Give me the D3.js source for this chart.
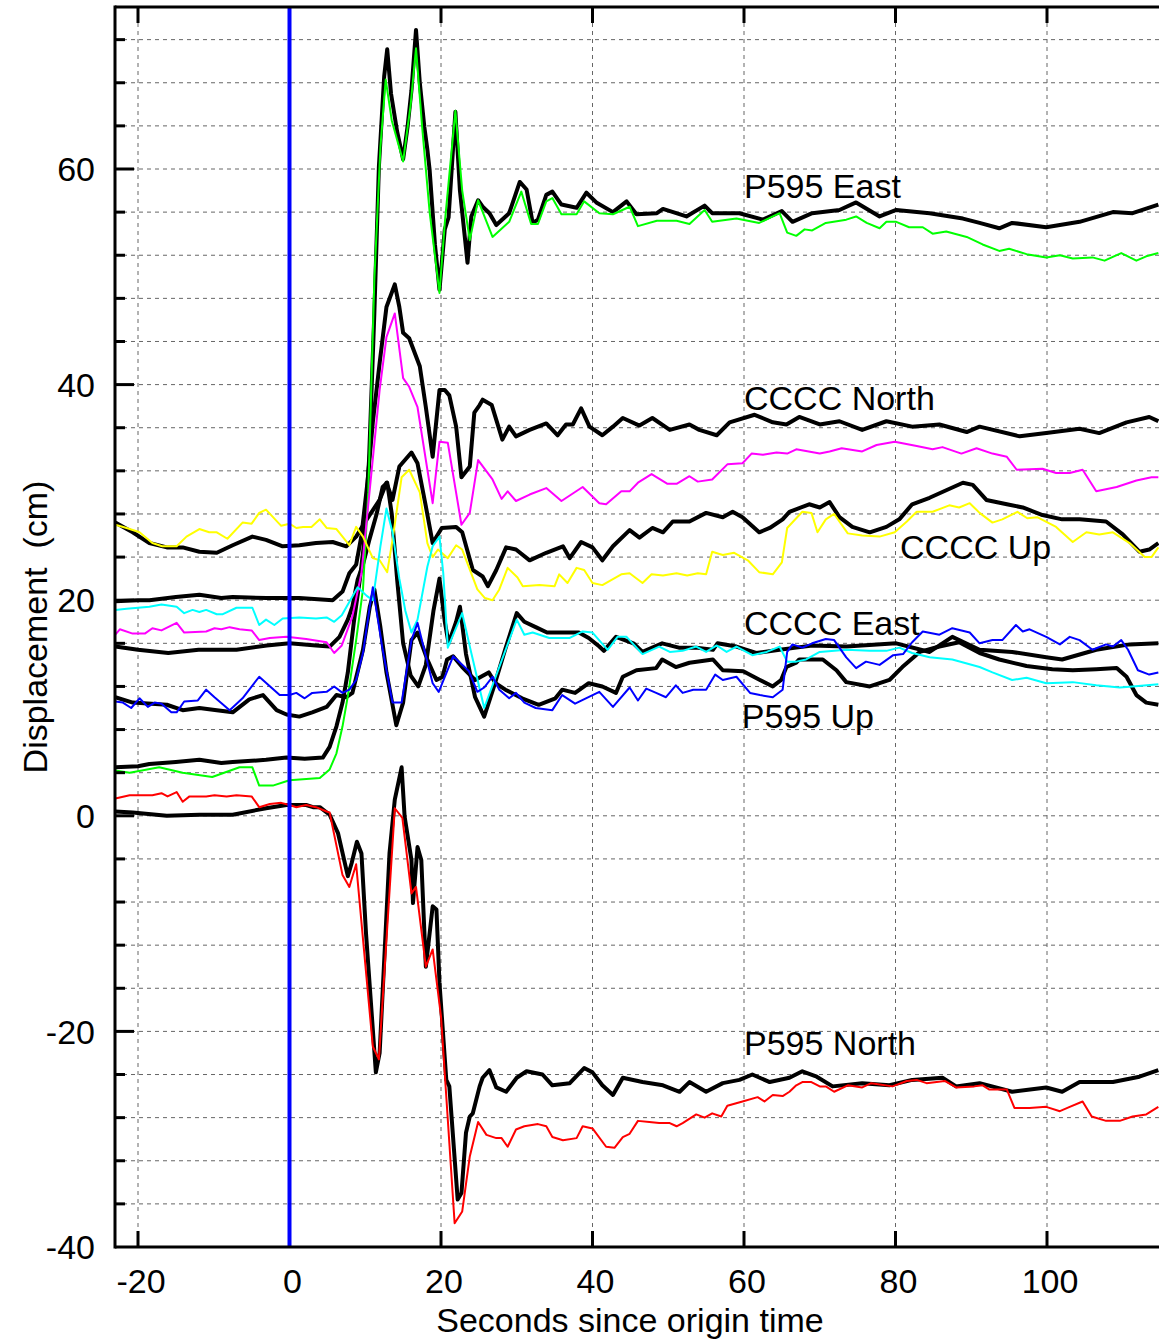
<!DOCTYPE html>
<html>
<head>
<meta charset="utf-8">
<script src="https://cdn.jsdelivr.net/npm/d3@7"></script>
<style>
  body { margin: 0; background: #fff; }
  text { font-family: "Liberation Sans", Arial, sans-serif; }
</style>
</head>
<body>
<div id="container"></div>
<script>
// [seconds, cm] pairs
const p595EastGps = [[-23,4.5],[-20,4.6],[-18.5,4.8],[-15,5.0],[-11.9,5.2],[-9,4.9],[-7.5,5.0],[-5,5.1],[-3.1,5.2],[-0.4,5.4],[2,5.3],[4.4,5.4],[5.3,6.4],[6.2,8.3],[7,10.5],[7.7,13.3],[8.5,18],[9.3,22],[9.8,25],[10.5,33],[11.2,46.6],[11.8,60.2],[12.5,68.6],[12.9,71.1],[13.4,67],[14.2,63.5],[15,60.9],[15.6,64],[16.1,67.3],[16.7,72.9],[17.2,68],[17.8,63.9],[18.2,61.8],[18.5,59.9],[19.2,53],[19.8,48.8],[20.5,54.4],[21,55.5],[21.9,65.3],[22.5,58],[23.5,51.3],[24,55.6],[24.9,57.1],[25.5,56.5],[26.4,55.9],[27.3,54.8],[29,55.9],[30.4,58.8],[31.3,58.1],[32.1,55],[32.8,55.3],[33.9,57.6],[34.7,57.9],[35.9,56.7],[37.9,56.4],[39.2,57.8],[40.5,56.9],[42.7,56],[44.5,57],[45.8,55.8],[48.5,55.9],[49.3,56.3],[52.4,55.6],[54.8,56.6],[55.8,55.9],[59.4,55.9],[62.5,55.3],[65,56.1],[66.4,55.1],[69,55.9],[72.6,56.2],[74.8,56.9],[77.9,55.6],[80.1,56.2],[84.5,55.9],[88.9,55.4],[91.1,55],[93.7,54.5],[95.4,55],[99.9,54.6],[104.3,55.1],[108.7,56],[111.3,55.9],[114.7,56.7]];
const p595EastSeis = [[-23,4.2],[-21.1,4.0],[-17.2,4.5],[-14.1,4.0],[-10.2,3.6],[-6.6,4.5],[-4.9,4.5],[-4,2.8],[-2.2,2.8],[0,3.3],[4,3.5],[5.3,4.3],[6.2,5.8],[7,8.3],[7.7,11.1],[8.8,16.3],[9.7,21],[10.4,30],[11.2,49.7],[12,62],[12.7,68.3],[13.5,64.5],[15,60.7],[16,66],[16.7,71.2],[17.5,64],[18.5,56],[19.8,48.5],[20.5,55],[21.9,65.4],[22.8,58],[23.8,53.4],[24.9,57.1],[26.8,53.7],[29,55.1],[30.6,57.9],[31.9,54.9],[32.8,54.9],[33.9,57],[34.7,57.3],[35.9,55.8],[37.9,55.8],[38.9,57],[40.9,55.9],[42.7,55.8],[44.9,56.5],[46,54.7],[48.5,55.2],[51.1,55.2],[52.8,54.9],[54.8,56.2],[55.8,55.1],[59,55.4],[62,55],[64.7,55.9],[65.7,54.1],[66.9,53.8],[68,54.4],[69,54.3],[70.8,55],[73.5,55.3],[74.8,55.6],[76.2,55],[77.9,54.5],[78.8,55.1],[80.1,55.1],[81.8,54.6],[83.6,54.6],[84.9,54],[86.7,54.2],[89.4,53.7],[91.5,53],[93.7,52.4],[95,52.6],[97.3,52.1],[99.9,51.8],[101.7,52],[103.4,51.7],[106,51.8],[107.6,51.5],[109.8,52.2],[111.8,51.5],[113.1,51.9],[114.7,52.2]];

const ccccNorthGps = [[-23,19.9],[-20,20],[-18.5,20],[-15,20.3],[-11.9,20.5],[-9,20.2],[-7.5,20.3],[-3,20.2],[1.3,20.2],[5.7,20],[7,20.8],[7.9,22.5],[8.8,23.3],[9.5,26],[10.3,31],[11,36.5],[11.9,42],[12.8,47.2],[13.9,49.3],[14.5,47.2],[15,44.8],[15.8,44.3],[17.2,41.7],[18,37.9],[18.9,33.3],[19.8,39.5],[20.5,39.5],[21.1,39],[22,36.1],[22.7,31.4],[23.8,32.4],[24.4,37.4],[25.1,38.1],[25.5,38.6],[26.7,38.1],[28.1,34.9],[29,36.1],[29.9,35.2],[31.7,35.8],[33.9,36.4],[35.4,35.3],[36.5,36.3],[37.4,36.3],[38.5,37.8],[39.6,36.1],[41.3,35.3],[42.7,36.1],[44,36.9],[46.2,36.2],[47.9,36.9],[50.2,35.8],[52.8,36.3],[54.1,35.8],[56.4,35.3],[58.1,36.5],[61.4,37.2],[63.8,36.5],[65.6,36.3],[67.3,37],[70,36.3],[72.6,36.6],[75.6,35.8],[78.8,36.6],[82.2,36.1],[85.8,36.3],[89.4,35.6],[91.1,36.1],[96.4,35.2],[99.9,35.5],[104.3,35.9],[106.9,35.5],[110.5,36.5],[113.5,37],[114.7,36.6]];
const ccccNorthSeis = [[-23,16.8],[-22.4,17.3],[-20.7,16.9],[-19.1,16.9],[-18.1,17.4],[-16.9,17.2],[-14.9,17.9],[-13.9,17],[-11,17.1],[-9.9,17.4],[-9,17.3],[-7.9,17.5],[-6.6,17.3],[-5,17.2],[-4,16.3],[-2.6,16.5],[-0.4,16.6],[2.2,16.4],[4.9,16.1],[5.9,15.1],[6.9,15.8],[8.3,18.5],[9.5,22.5],[10.7,31],[11.9,39.5],[12.8,44.4],[13.9,46.6],[15,40.6],[15.8,39.8],[16.9,37.9],[18.9,29],[19.8,34.7],[20.9,34.6],[22.7,27],[23.8,28.1],[24.9,33],[26.8,31.2],[28,29.4],[28.8,30.1],[29.9,29.2],[31.7,29.8],[33.9,30.4],[35.9,29.2],[38.7,30.5],[40.9,29],[41.8,28.9],[43.8,30.1],[44.9,30.1],[46,30.9],[47.8,31.7],[49.9,30.8],[51.1,30.8],[52.8,31.5],[53.9,31],[55.8,31.2],[57.8,32.6],[59.8,32.7],[61,33.6],[62.5,33.5],[64.3,33.7],[65.7,33.6],[66.9,34],[70,33.6],[71.3,33.8],[72.9,34.1],[75.6,33.8],[77.5,34.4],[79.9,34.7],[82.8,34.3],[84.9,34],[86.2,34.2],[88.7,33.6],[90.7,34.1],[92.8,33.6],[94.7,33.3],[96,32.1],[99.4,32.2],[101.2,31.8],[103,31.8],[104.7,32.1],[106.5,30.1],[109.2,30.5],[111.8,31.1],[113.8,31.4],[114.7,31.4]];

const ccccUpGps = [[-23,27.2],[-20.7,26.3],[-18.5,25.3],[-16.2,24.9],[-14.1,24.9],[-11.9,24.5],[-9.6,24.4],[-7.5,25.1],[-4.9,25.9],[-3.1,25.6],[-0.9,25],[1.3,25.1],[3.5,25.3],[5.7,25.4],[7.5,25],[8.8,25.9],[10.2,27.5],[11.9,29.3],[12.8,30.9],[13.6,29.3],[14.5,32.4],[16.1,33.7],[16.9,32.7],[18,28.7],[18.9,25.3],[20.1,26.7],[22,26.8],[22.8,26.3],[24.2,22.8],[25.5,22.2],[26.2,21.3],[27.3,22.8],[28.6,24.9],[29.9,24.7],[31.7,23.7],[33.9,24.4],[36.1,25],[37,23.9],[38.5,25.4],[40,24.9],[41.3,23.7],[42.7,25],[44.9,26.5],[46.2,25.8],[47.9,26.7],[49.3,26.3],[50.6,27.3],[52.8,27.3],[55,28.1],[57.2,27.7],[58.5,28.2],[59.8,27.7],[62,26.3],[63.4,26.7],[65.1,27.5],[66,28.2],[68.6,28.9],[70,28.6],[71.3,29.1],[72.6,27.7],[74.3,26.8],[76.6,26.3],[78.8,26.8],[80.5,27.5],[82.2,28.9],[84.5,29.5],[86.7,30.2],[88.9,30.9],[90.2,30.7],[92,29.3],[94.7,28.9],[96.8,28.6],[99.4,27.9],[102,27.5],[104.3,27.5],[107.8,27.3],[110,26.1],[112.2,24.5],[113.5,24.7],[114.7,25.3]];
const ccccUpSeis = [[-23,27],[-21.5,26.7],[-19.8,26.3],[-18.1,25.3],[-16.8,25],[-14.9,25],[-13.6,25.9],[-11.9,26.6],[-10.6,26.3],[-9.6,26.3],[-8.2,25.7],[-6.2,27.2],[-5,27.1],[-4,28.1],[-3.1,28.4],[-1.1,26.9],[0,27.1],[0.9,26.7],[1.8,26.8],[2.9,26.8],[4,27.5],[4.9,26.7],[6.2,26.6],[7.9,25.1],[8.8,26.8],[9.7,25.9],[11,23.9],[11.9,23.7],[12.9,22.6],[13.6,25.6],[14.8,31.4],[15.8,32.1],[17.2,30],[18.2,25.3],[18.9,24],[19.6,24.7],[20.9,23.9],[22,25.1],[22.8,24.7],[24.8,21],[25.8,20.2],[26.8,20],[27.7,21],[28.8,23],[30.1,22.1],[30.8,21.3],[33,21.4],[35,21.3],[35.6,22.4],[36.7,21.6],[37.9,23],[38.9,22.8],[40,21.6],[41.3,21.4],[43.8,22.4],[44.9,22.5],[46.6,21.6],[47.8,22.4],[49.3,22.3],[51.1,22.5],[52.5,22.3],[53.9,22.5],[55,22.4],[55.8,24.5],[57.2,24.2],[58.7,24.4],[60.5,23.7],[62,22.6],[63.8,22.4],[65,23.5],[65.7,26.7],[67.7,28.2],[68.9,28.1],[69.7,26.3],[70.8,27.5],[71.9,28],[73.7,26.2],[75.6,26],[77.9,25.9],[79.9,26.3],[81.5,27.3],[82.8,28.2],[84.9,28.2],[87.1,28.8],[88.4,28.6],[89.8,29],[91.1,28.1],[92.8,27.2],[94.1,27.5],[96.1,28.2],[97.4,27.6],[98.7,27.7],[101.2,26.8],[103.4,25.4],[105.2,26.3],[106.9,26.1],[108.7,26.3],[110.9,25.3],[112.9,24],[113.8,24],[114.7,24.9]];

const ccccEastGps = [[-23,15.7],[-20,15.4],[-16,15.1],[-12,15.4],[-7,15.4],[-3,15.8],[0,16],[3.5,15.8],[5.3,15.7],[6.6,16.6],[7.7,18.2],[8.3,19.4],[9,21.9],[9.7,23.3],[10.5,25.5],[11.5,28],[12.3,30.5],[12.9,30.9],[13.5,28],[14.2,22],[15,16],[16,13],[17,12],[18,14],[19,19],[19.8,22],[20.5,18],[21,16],[22,18],[22.5,19.4],[23.3,15],[24.5,11],[25.7,9.2],[27,12],[28.5,15.5],[30,18.8],[31,18],[32.5,17.5],[34,17],[36,17],[38.2,17],[39.5,16.5],[40.9,15.7],[41.5,15.3],[43.1,16.6],[45.4,16],[46.6,15.2],[49.2,16],[51.4,15.6],[53.7,15.6],[55.9,15.4],[56.5,16],[59,15.7],[61.6,15.1],[64.7,15.4],[66.9,15.6],[69,15.8],[73.5,15.7],[80.1,16],[84.5,15.2],[87.5,16.6],[91.1,15.4],[95.4,15.2],[99.9,14.7],[102,14.5],[106.5,15.4],[110.9,15.9],[114.7,16]];
const ccccEastSeis = [[-23,19.1],[-21.5,19.2],[-18.5,19.4],[-16.9,19.6],[-14.9,19.4],[-13.9,18.8],[-12.8,19.1],[-11.9,18.9],[-11,19.1],[-9.6,18.7],[-8.8,18.7],[-7,19.3],[-4.9,19.3],[-4,17.7],[-3.1,18.2],[-2,17.7],[-0.9,18.3],[1.3,18.4],[3.5,18.3],[4.9,18.4],[5.9,18],[6.9,18.6],[9,21.2],[10.2,20.4],[11,20],[12,25],[12.8,28.5],[13.6,26.3],[14.5,22],[15.3,19],[16.1,17],[16.9,18.2],[18.2,23.1],[18.9,25],[19.8,25.9],[20.3,22.5],[20.9,15.6],[22.8,18.8],[24,15.1],[25.7,10],[30,18.2],[31,16.8],[32.1,17],[34.3,16.5],[37,16.5],[38.7,17.1],[40,17],[42,15.4],[43.3,16.6],[44.5,16.6],[46.6,15],[48.8,15.7],[50.2,15.2],[51.9,15.3],[53.7,15.7],[55,15.2],[56.4,15.8],[57.7,15.2],[59,15.7],[61.1,14.9],[63,15.2],[64.7,15.7],[65.7,14.3],[66.9,14.3],[68.2,14.5],[70,15.2],[73.5,15.4],[76.6,15.3],[78.8,15.3],[80.5,15.6],[82.2,15.1],[84.5,14.7],[87.5,14.5],[91.1,13.8],[92.8,13.3],[95.4,12.6],[97.3,12.8],[99.9,12.3],[103.4,12.4],[106.5,12.1],[109.6,11.9],[111.3,12],[114.7,12.2]];

const p595UpGps = [[-23,11],[-20.7,10.5],[-16.2,10.3],[-14.1,9.8],[-11.9,10],[-9.6,9.8],[-7.5,9.6],[-5.3,10.8],[-3.5,11.2],[-1.7,9.8],[-0.4,9.4],[1.3,9.2],[3,9.6],[4.9,10.1],[6.2,11.2],[7.5,11],[8.3,11.4],[9.7,15.4],[10.6,19.4],[11.2,21],[12,17.5],[12.8,13.3],[14.1,8.4],[15,10.5],[16.1,16.3],[16.9,17],[18.2,14.5],[19.4,12.6],[20.2,12.9],[20.8,14.5],[21.6,14.8],[22.8,13.8],[24.5,12.6],[26.3,13.3],[27.2,12.3],[28.5,11.7],[30.7,10.9],[32.9,10.3],[35.1,10.9],[36,11.7],[37.7,11.4],[39.5,12.3],[41.3,12],[43.1,11.4],[44,12.9],[45.8,13.5],[48.4,13.7],[49.2,14.5],[51,13.8],[52.8,14.2],[55.9,14.5],[57.2,13.5],[59.9,13.4],[62.1,12.6],[63.8,12],[64.9,12.6],[65.6,13.8],[66.9,14.2],[67.3,14.5],[70.4,14.5],[72.2,13.5],[73.5,12.4],[76.6,12],[79.2,12.6],[80.9,13.8],[83.2,15.2],[85.8,15.7],[88.4,16.1],[91.1,15.1],[93.7,14.5],[97.3,13.9],[100.7,13.6],[103.4,13.5],[106.5,13.6],[109.2,13.7],[110.5,12.9],[111.8,11.2],[113.1,10.5],[114.7,10.3]];
const p595UpSeis = [[-23,10.6],[-22,10.5],[-20.9,10],[-19.8,10.9],[-18.7,10.1],[-17.8,10.5],[-16.9,10.4],[-15.6,9.6],[-14.9,9.6],[-13.9,10.6],[-12.1,10.7],[-11,11.7],[-9.9,11],[-7.9,9.8],[-6.2,10.9],[-4,12.9],[-1.3,11.2],[0,11.2],[0.9,11.4],[2,10.9],[3,11.4],[4.9,11.5],[5.9,12],[7,11.4],[7.9,11.7],[8.8,12.6],[9.7,15.1],[10.6,19.4],[11,21.2],[12.3,15.4],[13.6,10.5],[14.8,10.5],[16.1,16.3],[16.9,17.9],[18.9,12.3],[19.7,11.5],[21.6,14.8],[23.7,13.4],[24.8,11.5],[25.7,11.9],[26.8,12.9],[27.7,11.7],[29,10.9],[29.9,11.4],[31,10.5],[32.5,10],[34.7,9.8],[36,11.2],[37.7,10.4],[40.9,11.5],[42.7,10.1],[44.9,11.9],[46,10.7],[47.1,11.8],[48.4,11.4],[49.7,11],[51,12.1],[51.9,11.4],[53.3,11.7],[55,11.7],[56.2,13.1],[57.2,12.6],[59,12.9],[60.8,11.4],[62.1,11.2],[63.8,11],[65.1,11.7],[65.7,15.2],[66.4,15.9],[67.7,15.6],[69,16],[70.8,16.4],[71.9,16.3],[73.5,14.7],[74.8,13.7],[76.1,14.3],[77.9,14],[79.7,14.9],[81,15],[82.2,16.1],[83.6,17.1],[85.8,16.8],[87.5,17.4],[89.8,17],[91.1,16],[92.8,16.3],[94.1,16.3],[95.9,17.7],[96.8,17.1],[97.7,17.3],[99.9,16.6],[101.7,15.9],[103,16.6],[104.3,16.3],[106,15.4],[107.8,15.9],[108.7,15.7],[109.8,16.3],[110.7,15.4],[112,13.5],[113.5,13.1],[114.7,13.3]];

const p595NorthGps = [[-23,0.4],[-20.7,0.3],[-16.2,0],[-11.9,0.1],[-7.5,0.1],[-3.1,0.7],[-0.4,1],[2.2,1],[3.1,0.8],[4,0.8],[5.3,0.1],[6.4,-1.6],[7.7,-5.6],[8.2,-4.4],[8.9,-2.4],[9.5,-3.5],[10.1,-10.9],[11.4,-23.8],[11.9,-22],[13.2,-3.5],[13.9,1.5],[14.8,4.5],[15.2,-0.1],[16.1,-4.1],[16.3,-8.1],[16.9,-2.9],[17.4,-4.1],[18,-14],[18.9,-8.4],[19.4,-8.7],[19.8,-15.5],[20.7,-24.5],[21.1,-25.1],[22.2,-35.6],[22.7,-35],[23.3,-29.4],[23.8,-27.9],[24.2,-27.6],[25.1,-25.1],[25.5,-24.3],[26.4,-23.6],[27.3,-25.2],[28.6,-25.6],[30,-24.3],[31.3,-23.7],[33.4,-24],[34.7,-25],[37,-24.8],[38.9,-23.4],[40,-23.8],[41.3,-25],[42.7,-25.9],[44,-24.3],[46.6,-24.7],[49.3,-25],[51.5,-25.6],[52.8,-24.7],[55,-25.6],[57.2,-24.8],[59.4,-24.5],[61.1,-24],[63.4,-24.7],[66,-24.3],[67.7,-23.7],[69.6,-24.2],[71.7,-25.1],[75.6,-24.8],[79.2,-25],[82.2,-24.5],[86.2,-24.3],[88,-25.1],[91.1,-24.8],[95.4,-25.6],[99.9,-25.2],[102,-25.6],[104.3,-24.7],[108.7,-24.7],[112.2,-24.2],[114.7,-23.6]];
const p595NorthSeis = [[-23,1.6],[-21.1,1.9],[-18.1,1.9],[-16.9,2.1],[-16.1,1.8],[-14.9,2.2],[-14.1,1.3],[-13.2,1.8],[-11,1.8],[-9.9,1.9],[-8.3,1.8],[-7,1.9],[-5,1.8],[-4,0.8],[-2.6,1.1],[-1.1,1.2],[0,1],[0.9,0.8],[2.2,1],[3.5,0.8],[4.9,0.4],[5.3,0.3],[7,-5.5],[7.9,-6.6],[8.8,-4.5],[11,-21.4],[11.8,-22.6],[13.9,0.7],[14.9,-0.2],[16.1,-7.2],[16.7,-6.6],[18,-14],[18.9,-12.4],[20,-18.6],[21.8,-37.8],[22.8,-36.7],[23.8,-31.6],[24.9,-28.4],[26,-29.6],[27.3,-29.9],[28,-29.9],[28.8,-30.7],[29.9,-29.1],[31,-28.8],[32.8,-28.6],[33.9,-28.8],[34.7,-29.8],[36.1,-30.1],[37.9,-29.9],[38.7,-28.8],[40,-29],[41.8,-30.7],[42.9,-30.8],[44,-29.8],[44.9,-29.5],[46,-28.3],[47.5,-28.4],[48.8,-28.5],[50.2,-28.5],[51.1,-28.8],[51.9,-28.5],[53.7,-27.7],[54.8,-28],[55.8,-27.6],[57,-27.9],[57.8,-26.9],[59.8,-26.5],[61.8,-26.1],[62.7,-26.5],[63.8,-25.9],[65.1,-26],[66,-25.6],[66.9,-25],[67.7,-24.7],[68.9,-24.7],[70,-25.1],[70.8,-25.1],[71.9,-25.6],[73.7,-25],[75.6,-25.2],[76.8,-24.8],[79.6,-25.1],[81.5,-24.6],[82.8,-24.5],[84.1,-24.8],[86.5,-24.6],[88,-25.2],[90.4,-25.1],[91.5,-25],[92.4,-25.4],[94.7,-25.4],[95.7,-27.1],[97.7,-27.1],[99.9,-27],[101.7,-27.4],[103,-27],[104.7,-26.5],[105.9,-27.9],[107.8,-28.3],[109.6,-28.3],[111.3,-27.9],[113.1,-27.7],[114.7,-27]];

const xTicks = [-20, 0, 20, 40, 60, 80, 100];
const yTicks = [-40, -20, 0, 20, 40, 60];
const curveLabels = [
  {text: "P595 East", t: 60, v: 57.3},
  {text: "CCCC North", t: 60, v: 37.6},
  {text: "CCCC Up", t: 80.6, v: 23.8},
  {text: "CCCC East", t: 60, v: 16.8},
  {text: "P595 Up", t: 59.7, v: 8.1},
  {text: "P595 North", t: 60, v: -22.2}
];

let W = 1159, H = 1343;
let padL = 115, padT = 7, padB = 1247;

let x = d3.scaleLinear().domain([-20, 100]).range([138, 1047]);
let y = d3.scaleLinear().domain([-40, 60]).range([1247, 169]);

let svg = d3.select("#container").append("svg")
    .attr("width", W)
    .attr("height", H)
    .style("display", "block");

svg.append("defs").append("clipPath")
    .attr("id", "plot")
  .append("rect")
    .attr("x", padL)
    .attr("y", padT)
    .attr("width", W - padL + 10)
    .attr("height", padB - padT);

// grid
let grid = svg.append("g")
    .attr("stroke", "#666")
    .attr("stroke-width", 1)
    .attr("stroke-dasharray", "4,4");
grid.selectAll(".hg")
    .data(d3.range(-36, 76, 4))
    .join("line")
    .attr("x1", padL)
    .attr("x2", W)
    .attr("y1", d => y(d))
    .attr("y2", d => y(d));
grid.selectAll(".vg")
    .data(xTicks)
    .join("line")
    .attr("x1", d => x(d))
    .attr("x2", d => x(d))
    .attr("y1", padT)
    .attr("y2", padB);

let line = d3.line()
    .x(d => x(d[0]))
    .y(d => y(d[1]));

let plot = svg.append("g")
    .attr("clip-path", "url(#plot)")
    .attr("fill", "none")
    .attr("stroke-linejoin", "round");

// GPS (black) first, seismic traces drawn on top
let gps = [p595EastGps, ccccNorthGps, ccccUpGps, ccccEastGps, p595UpGps, p595NorthGps];
gps.forEach(s => {
  plot.append("path")
    .attr("d", line(s))
    .attr("stroke", "#000")
    .attr("stroke-width", 4);
});

let seis = [
  [p595EastSeis, "#00ff00"],
  [ccccNorthSeis, "#ff00ff"],
  [ccccUpSeis, "#ffff00"],
  [ccccEastSeis, "#00ffff"],
  [p595UpSeis, "#0000ff"],
  [p595NorthSeis, "#ff0000"]
];
seis.forEach(s => {
  plot.append("path")
    .attr("d", line(s[0]))
    .attr("stroke", s[1])
    .attr("stroke-width", 2);
});

// curve labels
svg.selectAll(".lab")
    .data(curveLabels)
    .join("text")
    .attr("x", d => x(d.t))
    .attr("y", d => y(d.v))
    .attr("font-size", 34)
    .attr("fill", "#000")
    .text(d => d.text);

// frame
let frame = svg.append("g")
    .attr("stroke", "#000")
    .attr("stroke-width", 3);

// ticks
frame.selectAll(".yt")
    .data(d3.range(-36, 76, 4))
    .join("line")
    .attr("x1", padL)
    .attr("x2", d => padL + (d % 20 === 0 ? 19 : 10))
    .attr("y1", d => y(d))
    .attr("y2", d => y(d));
frame.selectAll(".xtTop")
    .data(xTicks)
    .join("line")
    .attr("x1", d => x(d))
    .attr("x2", d => x(d))
    .attr("y1", padT)
    .attr("y2", padT + 16);
frame.selectAll(".xtBot")
    .data(xTicks)
    .join("line")
    .attr("x1", d => x(d))
    .attr("x2", d => x(d))
    .attr("y1", padB)
    .attr("y2", padB - 16);

// origin time
svg.append("line")
    .attr("x1", x(0))
    .attr("x2", x(0))
    .attr("y1", padT)
    .attr("y2", padB)
    .attr("stroke", "#0000ff")
    .attr("stroke-width", 4);

let border = svg.append("g")
    .attr("stroke", "#000")
    .attr("stroke-width", 3);
border.append("line").attr("x1", padL).attr("x2", padL).attr("y1", padT - 1.5).attr("y2", padB + 1.5);
border.append("line").attr("x1", padL).attr("x2", W).attr("y1", padT).attr("y2", padT);
border.append("line").attr("x1", padL).attr("x2", W).attr("y1", padB).attr("y2", padB);

// tick labels
svg.selectAll(".yl")
    .data(yTicks)
    .join("text")
    .attr("x", 95)
    .attr("y", d => y(d))
    .attr("dy", "0.36em")
    .attr("text-anchor", "end")
    .attr("font-size", 34)
    .text(d => d);
svg.selectAll(".xl")
    .data(xTicks)
    .join("text")
    .attr("x", d => x(d) + 3)
    .attr("y", 1293)
    .attr("text-anchor", "middle")
    .attr("font-size", 34)
    .text(d => d);

svg.append("text")
    .attr("x", 630)
    .attr("y", 1332)
    .attr("text-anchor", "middle")
    .attr("font-size", 34)
    .text("Seconds since origin time");
svg.append("text")
    .attr("transform", "translate(47,627) rotate(-90)")
    .attr("text-anchor", "middle")
    .attr("font-size", 34)
    .style("white-space", "pre")
    .text("Displacement  (cm)");
</script>
</body>
</html>
